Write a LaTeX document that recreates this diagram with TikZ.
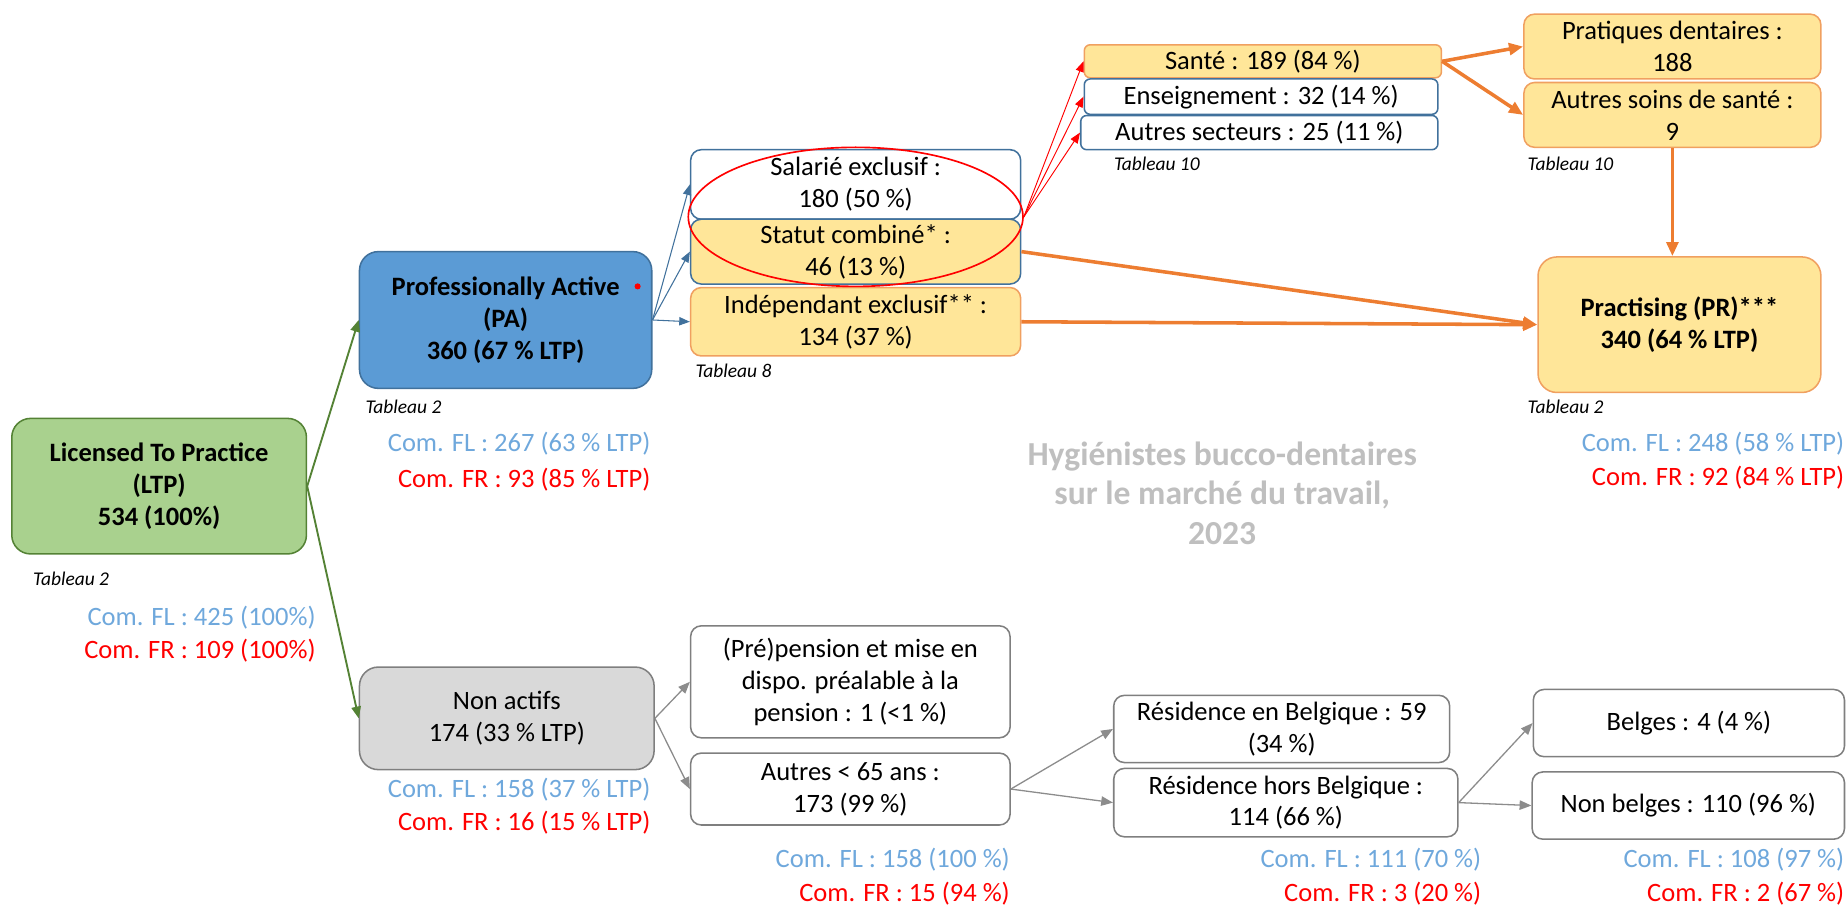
\documentclass[tikz,border=0pt]{standalone}
\usepackage{fontspec}
\setmainfont{Carlito}
\usetikzlibrary{arrows.meta,shapes.geometric}
\definecolor{gfill}{HTML}{A9D18E}
\definecolor{gline}{HTML}{548235}
\definecolor{bfill}{HTML}{5B9BD5}
\definecolor{bline}{HTML}{41719C}
\definecolor{yfill}{HTML}{FFE699}
\definecolor{oline}{HTML}{F0A060}
\definecolor{oarrow}{HTML}{ED7D31}
\definecolor{grfill}{HTML}{D9D9D9}
\definecolor{grline}{HTML}{7F7F7F}
\definecolor{arrgray}{HTML}{8C8C8C}
\definecolor{txtblue}{HTML}{6FA8DC}
\definecolor{txtred}{HTML}{FF0000}
\definecolor{ttlgray}{HTML}{BFBFBF}
\newcommand\bodyfs{\fontsize{22.5}{27}\selectfont}
\newcommand\tabfs{\fontsize{16.5}{19}\selectfont\itshape}
\begin{document}
\begin{tikzpicture}[x=1pt,y=-1pt,
  box/.style={draw, rounded corners=9pt, line width=1.3pt, align=center, inner sep=0pt, font=\bodyfs},
  bigbox/.style={box, rounded corners=16pt},
  wbox/.style={box, fill=white, draw=bline},
  ybox/.style={box, fill=yfill, draw=oline},
  gbox/.style={box, fill=white, draw=grline},
  tab/.style={anchor=west, inner sep=0pt, font=\tabfs},
  fl/.style={anchor=east, inner sep=0pt, font=\bodyfs, text=txtblue},
  fr/.style={anchor=east, inner sep=0pt, font=\bodyfs, text=txtred},
  garrow/.style={draw=gline, line width=1.6pt, -{Triangle[length=10pt,width=8pt]}},
  barrow/.style={draw=bline, line width=0.9pt, -{Triangle[length=9pt,width=7pt]}},
  rarrow/.style={draw=txtred, line width=0.8pt, -{Triangle[length=9pt,width=7pt]}},
  oarr/.style={draw=oarrow, line width=3pt, -{Triangle[length=12pt,width=10pt]}},
  grarrow/.style={draw=arrgray, line width=1.1pt, -{Triangle[length=10pt,width=8pt]}}
]
\useasboundingbox (0,0) rectangle (1568,768);

% main nodes
\node[bigbox, fill=gfill, draw=gline, minimum width=250pt, minimum height=115pt, font=\bodyfs\bfseries] (LTP) at (135,412.5) {Licensed To Practice\\(LTP)\\534 (100\%)};
\node[bigbox, fill=bfill, draw=bline, minimum width=248pt, minimum height=116pt, font=\bodyfs\bfseries] (PA) at (429,271.5) {Professionally Active\\(PA)\\360 (67 \% LTP)};
\fill[txtred] (541,243) circle (2.6pt);
\node[bigbox, fill=grfill, draw=grline, minimum width=250pt, minimum height=87pt] (NA) at (430,609.5) {Non actifs\\174 (33 \% LTP)};
\node[bigbox, fill=yfill, draw=oline, minimum width=240pt, minimum height=115pt, font=\bodyfs\bfseries] (PR) at (1425,275.5) {Practising (PR)***\\340 (64 \% LTP)};

% PA children
\node[wbox, minimum width=280pt, minimum height=59pt] (SAL) at (726,156.5) {Salarié exclusif :\\180 (50 \%)};
\node[box, fill=yfill, draw=bline, minimum width=280pt, minimum height=55pt] (STA) at (726,213.5) {Statut combiné* :\\46 (13 \%)};
\node[ybox, minimum width=280pt, minimum height=58pt] (IND) at (726,273) {Indépendant exclusif** :\\134 (37 \%)};
\node[draw=txtred, line width=1.4pt, ellipse, minimum width=284pt, minimum height=118pt, inner sep=0pt] (ELL) at (726,184) {};

% sectors
\node[ybox, rounded corners=5pt, minimum width=303pt, minimum height=28pt] (SAN) at (1071.5,52) {Santé : 189 (84 \%)};
\node[wbox, rounded corners=5pt, minimum width=300pt, minimum height=30pt] (ENS) at (1070,82) {Enseignement : 32 (14 \%)};
\node[wbox, rounded corners=5pt, minimum width=303pt, minimum height=29pt] (AUT) at (1068.5,112.5) {Autres secteurs : 25 (11 \%)};

\node[ybox, minimum width=252pt, minimum height=55pt] (PD) at (1419,39.5) {Pratiques dentaires :\\188};
\node[ybox, minimum width=252pt, minimum height=55pt] (AS) at (1419,97.5) {Autres soins de santé :\\9};

% non-active branch
\node[gbox, minimum width=271pt, minimum height=95pt] (PRE) at (721.5,578.5) {(Pré)pension et mise en\\dispo. préalable à la\\pension : 1 (<1 \%)};
\node[gbox, minimum width=271pt, minimum height=61pt] (A65) at (721.5,669.5) {Autres < 65 ans :\\173 (99 \%)};
\node[gbox, minimum width=285pt, minimum height=57pt] (REB) at (1087.5,618.5) {Résidence en Belgique : 59\\(34 \%)};
\node[gbox, minimum width=292pt, minimum height=58pt] (RHB) at (1091,681) {Résidence hors Belgique :\\114 (66 \%)};
\node[gbox, minimum width=264pt, minimum height=57pt] (BEL) at (1433,613.5) {Belges : 4 (4 \%)};
\node[gbox, minimum width=265pt, minimum height=57pt] (NBE) at (1432.5,683.5) {Non belges : 110 (96 \%)};

% Tableau labels
\node[tab] (t1) at (28,491) {Tableau 2};
\node[tab] (t2) at (310,345) {Tableau 2};
\node[tab] (t3) at (590,315) {Tableau 8};
\node[tab] (t4) at (945,139) {Tableau 10};
\node[tab] (t5) at (1296,139) {Tableau 10};
\node[tab] (t6) at (1296,345) {Tableau 2};

% Com labels
\node[fl] (fl1) at (268,524) {Com. FL : 425 (100\%)};
\node[fr] (fr1) at (268,552) {Com. FR : 109 (100\%)};
\node[fl] (fl2) at (552,376) {Com. FL : 267 (63 \% LTP)};
\node[fr] (fr2) at (552,407) {Com. FR : 93 (85 \% LTP)};
\node[fl] (fl3) at (1565,376) {Com. FL : 248 (58 \% LTP)};
\node[fr] (fr3) at (1565,405) {Com. FR : 92 (84 \% LTP)};
\node[fl] (fl4) at (552,670) {Com. FL : 158 (37 \% LTP)};
\node[fr] (fr4) at (552,698) {Com. FR : 16 (15 \% LTP)};
\node[fl] (fl5) at (857,729) {Com. FL : 158 (100 \%)};
\node[fr] (fr5) at (857,758) {Com. FR : 15 (94 \%)};
\node[fl] (fl6) at (1257,729) {Com. FL : 111 (70 \%)};
\node[fr] (fr6) at (1257,758) {Com. FR : 3 (20 \%)};
\node[fl] (fl7) at (1565,729) {Com. FL : 108 (97 \%)};
\node[fr] (fr7) at (1565,758) {Com. FR : 2 (67 \%)};

% title
\node[align=center, text=ttlgray, font=\fontsize{28.5}{33.5}\selectfont\bfseries] (TTL) at (1037,418.5) {Hygiénistes bucco-dentaires\\sur le marché du travail,\\2023};

% connectors
\draw[garrow] (LTP.east) -- (PA.west);
\draw[garrow] (LTP.east) -- (NA.west);
\draw[barrow] (PA.east) -- (SAL.west);
\draw[barrow] (PA.east) -- (STA.west);
\draw[barrow] (PA.east) -- (IND.west);
\draw[rarrow] (ELL.east) -- (SAN.west);
\draw[rarrow] (ELL.east) -- (ENS.west);
\draw[rarrow] (ELL.east) -- (AUT.west);
\draw[oarr] (SAN.east) -- (PD.west);
\draw[oarr] (SAN.east) -- (AS.west);
\draw[oarr] (AS.south) -- (AS.south |- PR.north);
\draw[oarr] (STA.east) -- (PR.west);
\draw[oarr] (IND.east) -- (PR.west);
\draw[grarrow] (NA.east) -- (PRE.west);
\draw[grarrow] (NA.east) -- (A65.west);
\draw[grarrow] (A65.east) -- (REB.west);
\draw[grarrow] (A65.east) -- (RHB.west);
\draw[grarrow] (RHB.east) -- (BEL.west);
\draw[grarrow] (RHB.east) -- (NBE.west);
\end{tikzpicture}
\end{document}
